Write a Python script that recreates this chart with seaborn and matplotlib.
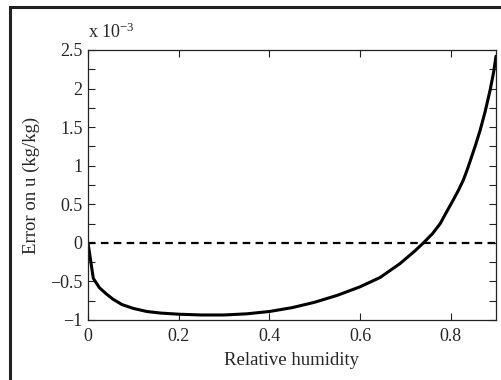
import matplotlib
matplotlib.use("Agg")
import matplotlib.pyplot as plt
import seaborn as sns
import pandas as pd
from matplotlib.patches import Rectangle
from matplotlib.ticker import MultipleLocator, FixedLocator

# Data (error in units of 1e-3 kg/kg)
humidity = [0, 0.0066, 0.0117, 0.025, 0.04, 0.055, 0.075, 0.1, 0.13, 0.16, 0.2,
            0.25, 0.3, 0.35, 0.4, 0.45, 0.5, 0.55, 0.6, 0.644, 0.688, 0.72, 0.74,
            0.76, 0.777, 0.79, 0.806, 0.817, 0.828, 0.836, 0.843, 0.855, 0.865,
            0.876, 0.887, 0.895, 0.9]
error_e3 = [0, -0.26, -0.46, -0.58, -0.66, -0.73, -0.80, -0.85, -0.89, -0.91, -0.925,
            -0.935, -0.935, -0.92, -0.89, -0.84, -0.77, -0.68, -0.57, -0.45, -0.27,
            -0.11, 0.0, 0.12, 0.25, 0.39, 0.56, 0.68, 0.815, 0.94, 1.06, 1.27, 1.46,
            1.70, 1.98, 2.22, 2.42]
x_ticks = [0, 0.2, 0.4, 0.6, 0.8]
x_tick_labels = ["0", "0.2", "0.4", "0.6", "0.8"]
y_ticks = [-1, -0.5, 0, 0.5, 1, 1.5, 2, 2.5]
y_tick_labels = ["\u22121", "\u22120.5", "0", "0.5", "1", "1.5", "2", "2.5"]

sns.set_style("ticks")
plt.rcParams["font.family"] = ["Liberation Serif", "DejaVu Serif"]
plt.rcParams["mathtext.fontset"] = "stix"

df = pd.DataFrame({"h": humidity, "e": error_e3})

fig, ax = plt.subplots(figsize=(5.01, 3.8), dpi=100)
fig.subplots_adjust(left=88/501, right=496/501, top=1-50/380, bottom=1-320/380)

ax.axhline(0, color="black", linestyle=(0, (3.4, 2.4)), linewidth=1.6, zorder=1)
sns.lineplot(data=df, x="h", y="e", ax=ax, color="black", linewidth=2.2, zorder=2)

ax.set_xlim(0, 0.9)
ax.set_ylim(-1, 2.5)
ax.xaxis.set_major_locator(FixedLocator(x_ticks))
ax.set_xticklabels(x_tick_labels)
ax.yaxis.set_major_locator(FixedLocator(y_ticks))
ax.set_yticklabels(y_tick_labels)
ax.yaxis.set_minor_locator(MultipleLocator(0.25))

ax.tick_params(axis="both", which="both", direction="in", top=True, right=True,
               labelsize=13, color="#222222", width=0.8)
ax.tick_params(which="major", length=5)
ax.tick_params(which="minor", length=5)
ax.tick_params(axis="x", pad=6)
ax.tick_params(axis="y", pad=4)
for s in ax.spines.values():
    s.set_linewidth(0.9)
    s.set_color("#222222")
    s.set_visible(True)

ax.set_xlabel("Relative humidity", fontsize=13.5, labelpad=5)
ax.set_ylabel("Error on u (kg/kg)", fontsize=13.5, labelpad=7)

fig.text(88/501, 1-38/380, "x 10$^{\\mathregular{\u22123}}$", fontsize=13,
         ha="left", va="baseline")

fig.patches.append(Rectangle((10/501, -0.1), 1.1, 1 - 7/380 + 0.1,
                             transform=fig.transFigure, fill=False,
                             edgecolor="#222222", linewidth=2.2))

fig.savefig("out.png", dpi=100)
